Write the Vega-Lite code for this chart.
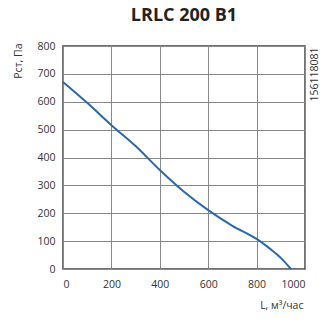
{
  "$schema": "https://vega.github.io/schema/vega-lite/v6.json",
  "width": 242,
  "height": 223,
  "autosize": {"type": "none"},
  "padding": {"left": 63, "top": 46, "right": 28, "bottom": 54},
  "background": "white",
  "title": {"text": "LRLC 200 B1", "font": "Open Sans", "fontSize": 18, "fontWeight": "bold", "color": "#222", "offset": 16, "anchor": "middle", "limit": 0},
  "config": {
    "view": {"stroke": "#444", "strokeWidth": 1.5},
    "axis": {"labelFont": "Open Sans", "labelFontSize": 10.5, "labelColor": "#333", "titleFont": "Open Sans", "titleFontSize": 10.5, "titleFontWeight": "normal", "titleColor": "#333", "gridColor": "#888", "gridOpacity": 1, "gridWidth": 1, "domain": false, "ticks": false}
  },
  "data": {"values": [
    {"L": 0, "P": 671},
    {"L": 100, "P": 596},
    {"L": 200, "P": 516},
    {"L": 300, "P": 441},
    {"L": 400, "P": 355},
    {"L": 500, "P": 277},
    {"L": 600, "P": 211},
    {"L": 700, "P": 155},
    {"L": 800, "P": 108},
    {"L": 855, "P": 73},
    {"L": 900, "P": 40},
    {"L": 942, "P": 0}
  ]},
  "layer": [
    {
      "mark": {"type": "line", "color": "#2a68ad", "strokeWidth": 2, "interpolate": "monotone"},
      "encoding": {
        "x": {"field": "L", "type": "quantitative", "scale": {"domain": [0, 1000], "nice": false}, "axis": {"values": [0, 200, 400, 600, 800, 1000], "format": "d", "labelPadding": 10, "title": "L, м³/час", "titleAnchor": "end", "titleAlign": "right", "titleX": 240, "titleY": 36, "titleBaseline": "middle"}},
        "y": {"field": "P", "type": "quantitative", "scale": {"domain": [0, 800], "nice": false}, "axis": {"values": [0, 100, 200, 300, 400, 500, 600, 700, 800], "format": "d", "labelPadding": 8, "title": "Pст, Па", "titleAngle": 270, "titleAlign": "right", "titleBaseline": "middle", "titleX": -45, "titleY": -3}}
      }
    },
    {
      "mark": {"type": "line", "opacity": 0},
      "encoding": {
        "x": {"field": "L", "type": "quantitative"},
        "y": {"field": "P", "type": "quantitative", "axis": {"orient": "right", "labels": false, "grid": false, "title": "156118081", "titleAngle": 270, "titleAlign": "right", "titleBaseline": "middle", "titleX": 9, "titleY": 1}}
      }
    }
  ],
  "resolve": {"axis": {"y": "independent"}}
}
